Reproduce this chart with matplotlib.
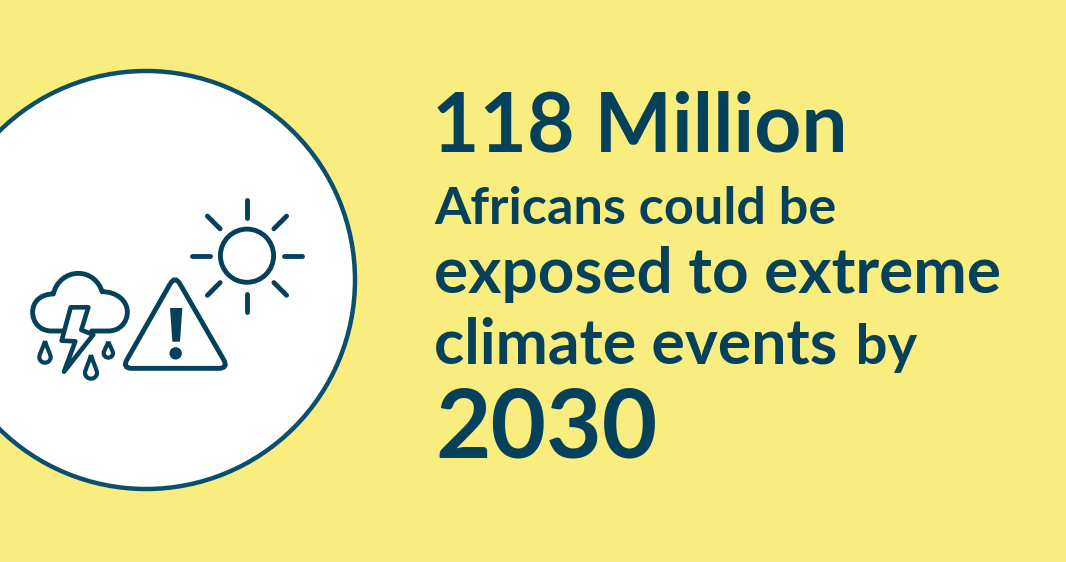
import numpy as np
import matplotlib
matplotlib.use('Agg')
import matplotlib.pyplot as plt
from matplotlib.patches import Circle, Polygon, PathPatch
from matplotlib.path import Path

BG = '#F9ED80'
NAVY = '#05415A'
RING = '#0B4F6C'
W, H = 1066, 562

headline = '118 Million'
line_one = 'Africans could be'
line_two = 'exposed to extreme'
line_three_a = 'climate events'
line_three_b = ' by'
year = '2030'

fig = plt.figure(figsize=(W/100, H/100), dpi=100, facecolor=BG)
ax = fig.add_axes([0, 0, 1, 1])
ax.set_xlim(0, W)
ax.set_ylim(H, 0)
ax.axis('off')
ax.add_patch(Circle((146, 280), 209, fc='white', ec=RING, lw=3.2))

lw = 3.5

def Z(x, y):
    # icon drawing space to figure pixels
    return (x/3 + 20, y/3 + 190)

def rounded(pts, r):
    verts, codes = [], []
    pts = [np.array(p, float) for p in pts]
    n = len(pts)
    for i in range(n):
        p, a, b = pts[i], pts[i-1], pts[(i+1) % n]
        s = p + (a-p)/np.linalg.norm(a-p)*r
        e = p + (b-p)/np.linalg.norm(b-p)*r
        verts += [tuple(s), tuple(p), tuple(e)]
        codes += [Path.MOVETO if i == 0 else Path.LINETO, Path.CURVE3, Path.CURVE3]
    verts.append(verts[0])
    codes.append(Path.LINETO)
    return Path(verts, codes)

# sun
cx, cy = 247, 255.7
ax.add_patch(Circle((cx, cy), 26.6, fc='none', ec=NAVY, lw=lw))
for a in range(0, 360, 45):
    t = np.deg2rad(a)
    r0, r1 = (38, 56)
    if a in (0, 180):
        r0, r1 = 37, 55
    ax.plot([cx + r0*np.cos(t), cx + r1*np.cos(t)], [cy + r0*np.sin(t), cy + r1*np.sin(t)],
            color=NAVY, lw=lw, solid_capstyle='round')

# warning triangle
tri = [Z(465, 256), Z(626, 535), Z(306, 535)]
ax.add_patch(PathPatch(rounded(tri, 10), fc='none', ec=NAVY, lw=lw, joinstyle='round'))
ax.add_patch(Polygon([Z(450, 354), Z(487, 354), Z(480, 455), Z(457, 455)], closed=True, fc=NAVY, ec='none'))
ax.add_patch(Circle(Z(467, 490), 6.2, fc=NAVY, ec='none'))

# cloud
cv = [(130, 423), (95, 423), (60, 423), (38, 398), (38, 366), (38, 335), (62, 312), (100, 312),
      (108, 275), (140, 250), (175, 250), (210, 250), (238, 275), (246, 305),
      (290, 305), (322, 332), (322, 366), (322, 398), (298, 423), (265, 423), (215, 423)]
cc = [Path.MOVETO, Path.LINETO] + [Path.CURVE4]*18 + [Path.LINETO]
ax.add_patch(PathPatch(Path([Z(*p) for p in cv], cc), fc='none', ec=NAVY, lw=lw, capstyle='round', joinstyle='round'))

# bolt
bolt = [(152, 352), (205, 352), (184, 420), (220, 434), (132, 545), (166, 454), (125, 452)]
ax.add_patch(Polygon([Z(*p) for p in bolt], closed=True, fc='white', ec=NAVY, lw=lw*0.95, joinstyle='round'))

# drops: centre x, top y, bottom y, half width
for (dx, top, bot, hw) in [(75, 453, 518, 17), (213, 495, 566, 18), (265, 455, 503, 14)]:
    mid = bot - hw
    v = [(dx, top), (dx+hw*0.4, top+(mid-top)*0.45), (dx+hw, mid-hw*0.4), (dx+hw, mid),
         (dx+hw, bot-hw*0.35), (dx+hw*0.5, bot), (dx, bot),
         (dx-hw*0.5, bot), (dx-hw, bot-hw*0.35), (dx-hw, mid),
         (dx-hw, mid-hw*0.4), (dx-hw*0.4, top+(mid-top)*0.45), (dx, top)]
    ax.add_patch(PathPatch(Path([Z(*p) for p in v], [Path.MOVETO] + [Path.CURVE4]*12),
                           fc='white', ec=NAVY, lw=3.0, joinstyle='round'))

font = 'Lato'
def txt(x, y, s, size):
    return ax.text(x, y, s, fontsize=size, color=NAVY, family=font, weight='bold', va='baseline', ha='left')

txt(432, 152, headline, 59)
txt(434, 224, line_one, 37.6)
txt(434, 293, line_two, 46)
t = txt(434, 364, line_three_a, 45)
fig.canvas.draw()
bb = t.get_window_extent()
txt(bb.x1 + 5, 364, line_three_b, 40.5)
txt(435, 458, year, 69)

fig.savefig('out.png', dpi=100, facecolor=BG)
